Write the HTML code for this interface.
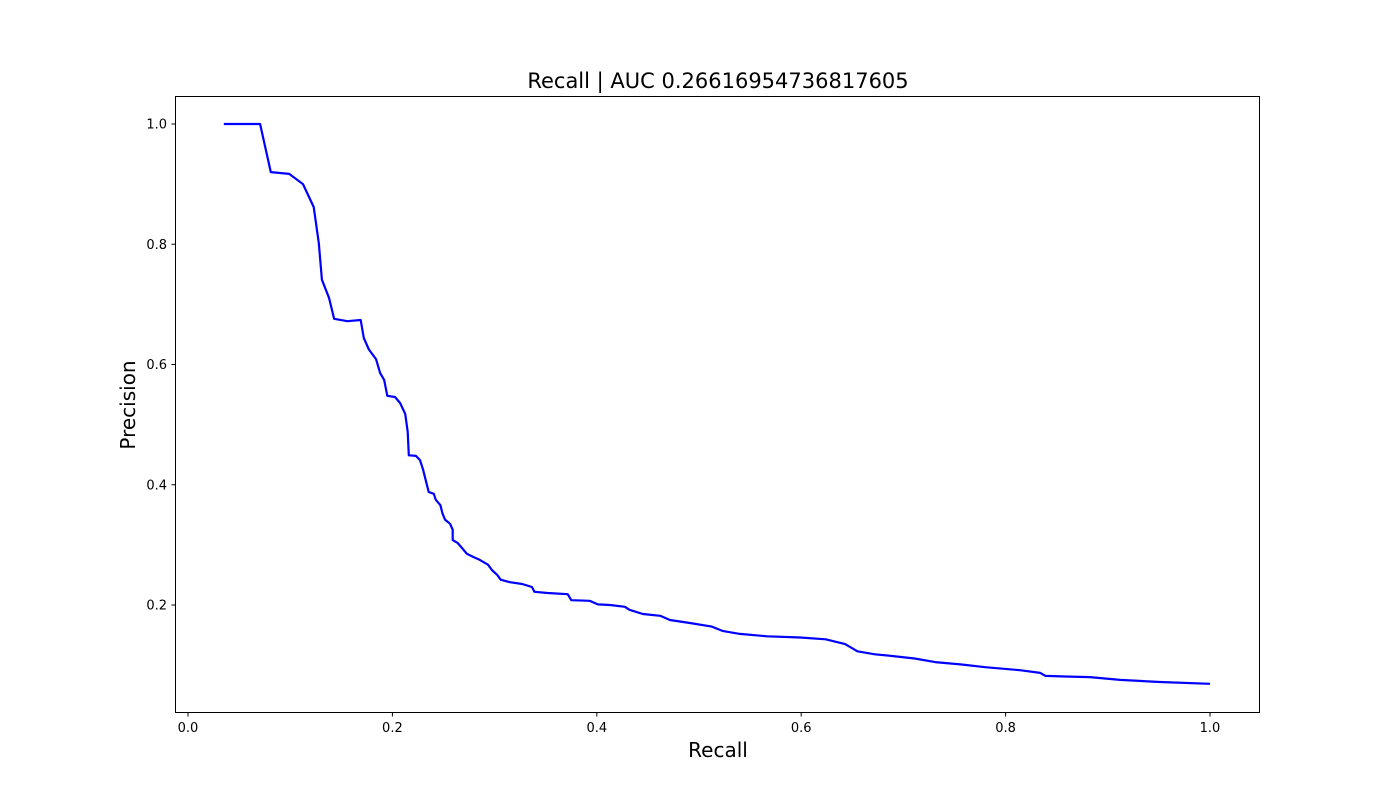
<!DOCTYPE html>
<html><head><meta charset="utf-8"><style>
body{margin:0;background:#fff;}
svg text{font-family:"DejaVu Sans","Liberation Sans",sans-serif;}
</style></head><body>
<svg width="1400" height="800" xmlns="http://www.w3.org/2000/svg">
<rect width="1400" height="800" fill="#fff"/>
<g id="ticks"></g>
<path id="curve" fill="none" stroke="#0000ff" stroke-width="2.2" stroke-linejoin="round"/>
<rect x="175.5" y="96.5" width="1084" height="616" fill="none" stroke="#000" stroke-width="1"/>
<text x="718" y="88" font-size="21" text-anchor="middle">Recall | AUC 0.26616954736817605</text>
<text x="718" y="757" font-size="20" text-anchor="middle">Recall</text>
<text transform="translate(135,405) rotate(-90)" font-size="20" text-anchor="middle">Precision</text>
</svg>
<script>
const recall=[.035,.0705,.081,.099,.1125,.123,.128,.131,.138,.143,.156,.169,.172,.177,.184,.188,.192,.195,.2025,.2075,.2125,.215,.216,.223,.227,.230,.2315,.2355,.2405,.2425,.247,.249,.2515,.2565,.259,.259,.264,.268,.273,.279,.2855,.2935,.2975,.3025,.306,.315,.327,.3365,.339,.352,.3715,.375,.393,.401,.413,.4275,.432,.445,.462,.4715,.491,.5125,.523,.540,.5665,.599,.624,.643,.655,.672,.690,.711,.731,.757,.780,.814,.834,.839,.858,.8825,.912,.951,1.0];
const precision=[1.0,1.0,.920,.917,.90,.862,.802,.741,.711,.676,.672,.674,.644,.625,.609,.586,.574,.548,.546,.536,.518,.488,.449,.448,.441,.425,.415,.388,.385,.375,.366,.352,.342,.335,.325,.308,.303,.295,.285,.280,.275,.267,.258,.250,.242,.238,.235,.230,.222,.220,.218,.208,.207,.201,.200,.197,.192,.185,.182,.175,.170,.164,.157,.152,.148,.146,.143,.135,.123,.118,.115,.111,.105,.101,.0965,.0915,.087,.082,.081,.080,.0755,.072,.069];
const xTicks=[0,0.2,0.4,0.6,0.8,1.0];
const xTickLabels=["0.0","0.2","0.4","0.6","0.8","1.0"];
const yTicks=[0.2,0.4,0.6,0.8,1.0];
const yTickLabels=["0.2","0.4","0.6","0.8","1.0"];
const X=v=>188+v*1022;
const Y=v=>725.25-v*601.25;
const NS="http://www.w3.org/2000/svg";
const g=document.getElementById('ticks');
function mk(t,a){const e=document.createElementNS(NS,t);for(const k in a)e.setAttribute(k,a[k]);return e;}
xTicks.forEach((v,i)=>{
 const l=mk('line',{x1:X(v),x2:X(v),y1:712.5,y2:716.5,stroke:'#000'});
 
 
 g.appendChild(l);
 const t=mk('text',{x:X(v),y:732,'font-size':13,'text-anchor':'middle'});
 
 
 t.textContent=xTickLabels[i];g.appendChild(t);
});
yTicks.forEach((v,i)=>{
 const l=mk('line',{x1:171.5,x2:175.5,y1:Y(v),y2:Y(v),stroke:'#000'});
 
 
 g.appendChild(l);
 const t=mk('text',{x:167,y:Y(v)+4.5,'font-size':13,'text-anchor':'end'});
 
 
 t.textContent=yTickLabels[i];g.appendChild(t);
});
document.getElementById('curve').setAttribute('d',recall.map((r,i)=>(i?'L':'M')+X(r).toFixed(1)+','+Y(precision[i]).toFixed(1)).join(''));
</script>
</body></html>
